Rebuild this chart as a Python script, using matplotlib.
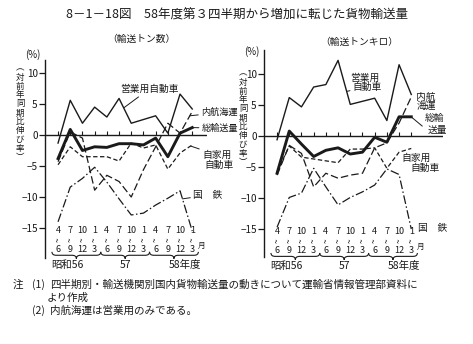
import matplotlib
matplotlib.use("Agg")
import matplotlib.pyplot as plt
from matplotlib.path import Path
from matplotlib.patches import PathPatch
import numpy as np

plt.rcParams['font.family'] = ['Noto Sans CJK JP', 'DejaVu Sans']

# ---------------- data ----------------
q_start = ["4", "7", "10", "1", "4", "7", "10", "1", "4", "7", "10", "1"]
q_end = ["6", "9", "12", "3", "6", "9", "12", "3", "6", "9", "12", "3"]
years = ["昭和56", "57", "58年度"]

# 輸送トン数 (tonnes)
ton_eigyo = [-1.3, 5.6, 1.9, 4.5, 2.9, 5.9, 1.9, 2.5, 3.1, 0.3, 6.6, 4.2]
ton_naiko = [-4.3, 0.5, -0.5, -8.9, -6.5, -7.5, -10.0, -5.6, -1.9, 1.9, 0.3, 3.8]
ton_total = [-3.8, 0.9, -2.5, -1.9, -2.0, -1.4, -1.4, -1.6, -0.5, -3.5, 0.3, 1.2]
ton_jika = [-4.8, -1.9, -3.5, -3.5, -3.5, -4.2, -1.3, -2.1, -1.6, -5.5, -2.9, -1.6]
ton_kokutetsu = [-14.0, -8.4, -7.0, -5.2, -7.6, -10.3, -12.9, -12.6, -11.3, -10.2, -9.0, -15.5]

# 輸送トンキロ (tonne-km)
tkm_eigyo = [-0.6, 6.2, 4.7, 7.9, 8.3, 12.2, 5.1, 5.6, 6.1, 2.5, 11.5, 6.7]
tkm_naiko = [-6.3, -1.5, -2.8, -8.2, -6.0, -6.8, -6.3, -6.0, -1.9, -1.1, 2.1, 6.3]
tkm_total = [-6.0, 0.8, -1.3, -3.3, -2.3, -1.9, -2.9, -2.6, -0.2, -1.0, 3.1, 3.1]
tkm_jika = [-5.8, -1.6, -3.4, -3.7, -4.0, -4.3, -2.1, -2.1, -1.9, -5.2, -2.6, -2.0]
tkm_kokutetsu = [-14.7, -9.9, -9.2, -5.2, -8.2, -11.1, -9.9, -9.0, -7.9, -5.3, -6.2, -15.0]

yticks = [10, 5, 0, -5, -10, -15]
ytick_labels = ["10", "5", "0", "−5", "−10", "−15"]

INK = "#1a1a1a"
styles = {
    "eigyo": dict(lw=1.0, ls="-"),
    "naiko": dict(lw=0.9, ls=(0, (6, 2.5))),
    "total": dict(lw=2.1, ls="-"),
    "jika": dict(lw=0.9, ls=(0, (3.5, 2))),
    "kokutetsu": dict(lw=0.9, ls=(0, (7, 2, 1.2, 2))),
}

W, H = 473, 344
fig = plt.figure(figsize=(W / 100, H / 100), dpi=100)
fig.patch.set_facecolor("white")

axL = fig.add_axes([45 / W, 1 - 258 / H, (207 - 45) / W, (258 - 60) / H])
axR = fig.add_axes([264 / W, 1 - 257 / H, (443 - 264) / W, (257 - 50) / H])
axL.set_xlim(-1.07, 12.21)
axL.set_ylim(-19.84, 12.1)
axR.set_xlim(-1.07, 13.6)
axR.set_ylim(-19.5, 13.87)

x = np.arange(len(q_start))


def brace(ax, x0, x1, y0, h):
    xm = (x0 + x1) / 2
    d = 0.35
    verts = [(x0, y0 + h), (x0, y0), (x0 + d, y0),
             (xm - d, y0),
             (xm, y0), (xm, y0 - h),
             (xm, y0), (xm + d, y0),
             (x1 - d, y0),
             (x1, y0), (x1, y0 + h)]
    codes = [Path.MOVETO, Path.CURVE3, Path.CURVE3,
             Path.LINETO,
             Path.CURVE3, Path.CURVE3,
             Path.CURVE3, Path.CURVE3,
             Path.LINETO,
             Path.CURVE3, Path.CURVE3]
    ax.add_patch(PathPatch(Path(verts, codes), fill=False, lw=0.8,
                           edgecolor=INK, clip_on=False))


def setup(ax):
    for s in ["top", "right", "bottom"]:
        ax.spines[s].set_visible(False)
    ax.spines["left"].set_linewidth(1.0)
    ax.spines["left"].set_color(INK)
    ax.set_xticks([])
    ax.set_yticks(yticks)
    ax.set_yticklabels(ytick_labels, fontsize=7.2)
    ax.tick_params(axis="y", direction="out", length=4, width=0.9, pad=1.2,
                   colors=INK)
    ax.axhline(0, color=INK, lw=1.0, zorder=1)
    ax.vlines(x, 0, 0.6, color=INK, lw=0.8)
    for i in range(len(x)):
        ax.text(x[i], -15.4, q_start[i], ha="center", va="center", fontsize=6.5,
                color=INK, clip_on=False)
        ax.text(x[i], -16.9, "~", ha="center", va="center", fontsize=6,
                rotation=90, color=INK, clip_on=False)
        ax.text(x[i], -18.4, q_end[i], ha="center", va="center", fontsize=6.5,
                color=INK, clip_on=False)
    ax.text(x[-1] + 0.45, -17.9, "月", ha="left", va="center", fontsize=5.5,
            color=INK, clip_on=False)
    for g in range(3):
        brace(ax, x[4 * g] - 0.5, x[4 * g + 3] + 0.5, -19.4, 0.55)
    centers = [0.8, 5.5, 10.4]
    for g, lab in enumerate(years):
        ax.text(centers[g], -20.9, lab, ha="center", va="center", fontsize=7.5,
                color=INK, clip_on=False)


def draw(ax, eigyo, naiko, total, jika, kokutetsu):
    ax.plot(x, kokutetsu, color=INK, **styles["kokutetsu"])
    ax.plot(x, jika, color=INK, **styles["jika"])
    ax.plot(x, naiko, color=INK, **styles["naiko"])
    ax.plot(x, eigyo, color=INK, **styles["eigyo"])
    ax.plot(x, total, color=INK, **styles["total"])


setup(axL)
setup(axR)
draw(axL, ton_eigyo, ton_naiko, ton_total, ton_jika, ton_kokutetsu)
draw(axR, tkm_eigyo, tkm_naiko, tkm_total, tkm_jika, tkm_kokutetsu)

lead = dict(arrowstyle="-", lw=0.7, color=INK, shrinkA=0, shrinkB=0)
fs = 7
fsn = 6.6

# left labels
axL.annotate("営業用自動車", xy=(5.4, 4.4), xytext=(7.46, 7.4), ha="center",
             va="center", fontsize=fs, color=INK, arrowprops=lead,
             annotation_clip=False)
axL.annotate("内航海運", xy=(10.8, 3.1), xytext=(11.72, 3.6), ha="left",
             va="center", fontsize=fsn, color=INK, arrowprops=lead,
             annotation_clip=False)
axL.annotate("総輸送量", xy=(11.0, 1.2), xytext=(11.77, 1.1), ha="left",
             va="center", fontsize=fsn, color=INK, arrowprops=lead,
             annotation_clip=False)
axL.annotate("自家用", xy=(10.9, -1.8), xytext=(11.8, -3.2), ha="left",
             va="center", fontsize=fs, color=INK, arrowprops=lead,
             annotation_clip=False)
axL.text(12.0, -4.8, "自動車", ha="left", va="center", fontsize=fs, color=INK,
         clip_on=False)
axL.annotate("国　鉄", xy=(10.2, -10.3), xytext=(11.07, -9.7), ha="left",
             va="center", fontsize=fs, color=INK, arrowprops=lead,
             annotation_clip=False)

# right labels
axR.text(7.2, 9.35, "営業用", ha="center", va="center", fontsize=fs, color=INK)
axR.annotate("自動車", xy=(5.7, 7.2), xytext=(7.4, 7.9), ha="center",
             va="center", fontsize=fs, color=INK, arrowprops=lead)
axR.text(12.2, 6.3, "内航", ha="center", va="center", fontsize=fs, color=INK,
         clip_on=False)
axR.text(12.2, 4.8, "海運", ha="center", va="center", fontsize=fs, color=INK,
         clip_on=False)
axR.annotate("", xy=(11.05, 3.0), xytext=(11.9, 1.6), arrowprops=lead,
             annotation_clip=False)
axR.text(12.9, 2.9, "総輸", ha="center", va="center", fontsize=fs, color=INK,
         clip_on=False)
axR.text(13.1, 1.0, "送量", ha="center", va="center", fontsize=fs, color=INK,
         clip_on=False)
axR.text(11.4, -3.5, "自家用", ha="center", va="center", fontsize=fs,
         color=INK, clip_on=False)
axR.text(12.1, -5.2, "自動車", ha="center", va="center", fontsize=fs,
         color=INK, clip_on=False)
axR.text(11.56, -14.8, "国　鉄", ha="left", va="center", fontsize=fs,
         color=INK, clip_on=False)

# titles and axis captions
fig.text(0.5, 1 - 15 / H, "8－1－18図　58年度第３四半期から増加に転じた貨物輸送量",
         ha="center", va="center", fontsize=9, color=INK)
fig.text(141 / W, 1 - 39 / H, "（輸送トン数）", ha="center", va="center",
         fontsize=7, color=INK)
fig.text(359 / W, 1 - 42 / H, "（輸送トンキロ）", ha="center", va="center",
         fontsize=7, color=INK)
fig.text(33 / W, 1 - 55 / H, "(%)", ha="center", va="center", fontsize=7,
         color=INK)
fig.text(252 / W, 1 - 52 / H, "(%)", ha="center", va="center", fontsize=7,
         color=INK)
vlabel = "\n".join("︵対前年同期比伸び率︶")
fig.text(20 / W, 1 - 113 / H, vlabel, ha="center", va="center", fontsize=6.1,
         linespacing=1.0, color=INK)
fig.text(243 / W, 1 - 118 / H, vlabel, ha="center", va="center", fontsize=6.1,
         linespacing=1.0, color=INK)

# notes
nfs = 7.6
fig.text(13 / W, 1 - 285 / H, "注", ha="left", va="center", fontsize=nfs, color=INK)
fig.text(32 / W, 1 - 285 / H, "(1)", ha="left", va="center", fontsize=nfs, color=INK)
fig.text(50 / W, 1 - 285 / H,
         "四半期別・輸送機関別国内貨物輸送量の動きについて運輸省情報管理部資料に",
         ha="left", va="center", fontsize=nfs, color=INK)
fig.text(47 / W, 1 - 298 / H, "より作成", ha="left", va="center", fontsize=nfs,
         color=INK)
fig.text(32 / W, 1 - 311 / H, "(2)", ha="left", va="center", fontsize=nfs, color=INK)
fig.text(50 / W, 1 - 311 / H, "内航海運は営業用のみである。", ha="left",
         va="center", fontsize=nfs, color=INK)

fig.savefig("out.png", dpi=100, facecolor="white")
